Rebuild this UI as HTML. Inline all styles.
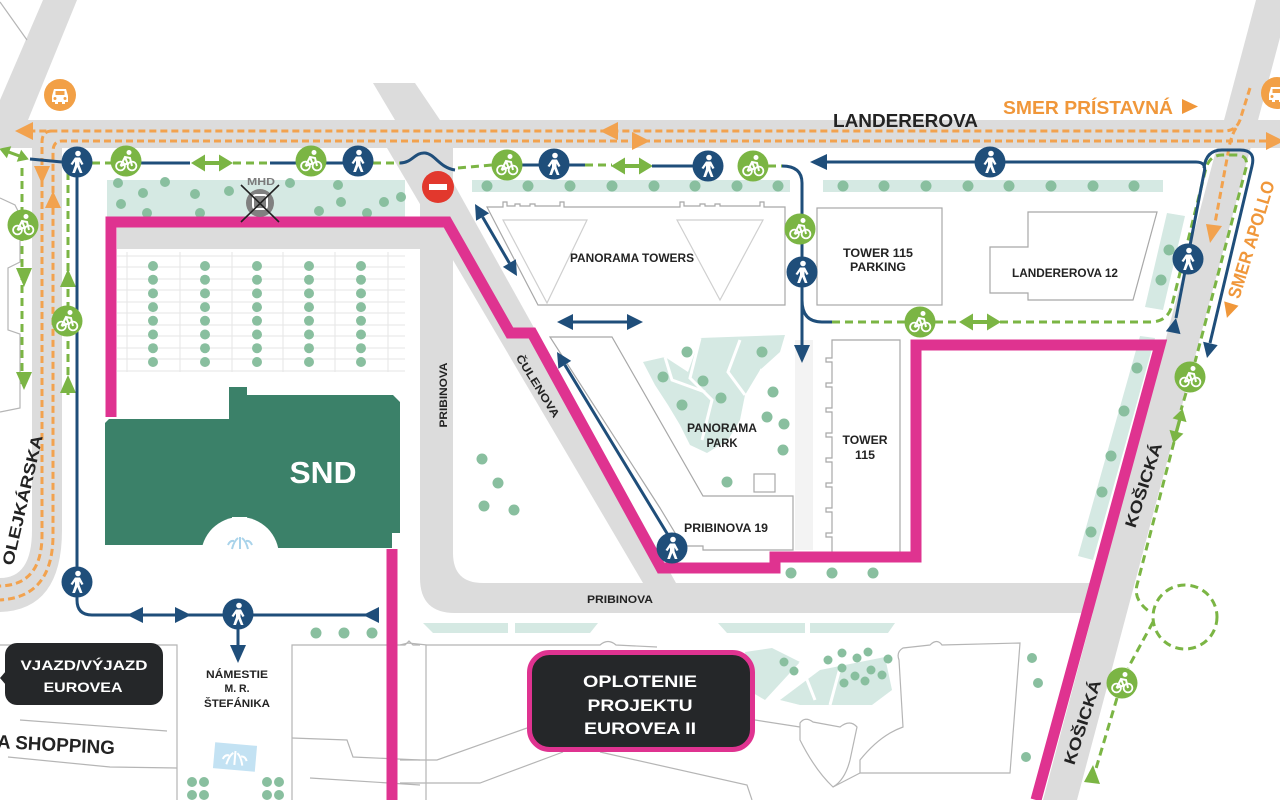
<!DOCTYPE html>
<html><head><meta charset="utf-8">
<style>
html,body{margin:0;padding:0;background:#fff;}
svg{display:block;}
text{font-family:"Liberation Sans",Arial,sans-serif;font-weight:bold;}
</style></head><body>
<svg width="1280" height="800" viewBox="0 0 1280 800" xmlns="http://www.w3.org/2000/svg">
<defs>
 <g id="ped">
  <circle r="15.5" fill="#1f4e7a"/>
  <circle cx="1" cy="-8.5" r="2.8" fill="#fff"/>
  <path d="M-2,-4.5 L3,-4.5 L6.5,2 L4.5,3 L2.5,-0.5 L2.5,3 L5.5,11 L2.8,11 L0.3,5 L-2,11 L-4.8,11 L-2,3 L-2,-0.5 L-4.5,3 L-6.5,2 Z" fill="#fff"/>
 </g>
 <g id="bike">
  <circle r="15.5" fill="#7bb544"/>
  <circle cx="-5.5" cy="5" r="4.4" fill="none" stroke="#fff" stroke-width="1.8"/>
  <circle cx="6" cy="5" r="4.4" fill="none" stroke="#fff" stroke-width="1.8"/>
  <circle cx="3" cy="-8.5" r="2.5" fill="#fff"/>
  <path d="M-5.5,5 L-1,-4 L4,-3 L6,5 M-1,-4 L1.5,2.5 L-5.5,5" stroke="#fff" stroke-width="2" fill="none"/>
 </g>
 <g id="dbl">
  <path d="M-21,0 L-7,-8.5 L-7,-2 L7,-2 L7,-8.5 L21,0 L7,8.5 L7,2 L-7,2 L-7,8.5 Z" fill="#7bb544"/>
 </g>
 <g id="car">
  <circle r="16" fill="#f2a046"/>
  <path d="M-8,1 L-6,-6 L6,-6 L8,1 L8,7 L5,7 L5,9 L2,9 L2,7 L-2,7 L-2,9 L-5,9 L-5,7 L-8,7 Z" fill="#fff"/>
  <rect x="-4.5" y="-4" width="9" height="4" fill="#f2a046"/>
  <circle cx="-5" cy="3.5" r="1.5" fill="#f2a046"/>
  <circle cx="5" cy="3.5" r="1.5" fill="#f2a046"/>
 </g>
</defs>

<!-- ROADS -->
<g fill="#dcdcdc">
 <polygon points="43,0 77,0 28,120 0,120 0,100"/>
 <rect x="0" y="120" width="1280" height="28"/>
 <polygon points="373,83 415,83 440,120 395,120"/>
 <polygon points="1256,0 1290,0 1077,800 1043,800"/>
 <path d="M32,140 L62,140 L62,530 Q62,610 0,612 L0,578 Q32,578 32,530 Z"/>
 <path d="M420,148 L453,148 L453,553 Q453,583 483,583 L1100,583 L1100,613 L455,613 Q420,613 420,578 Z"/>
 <polygon points="387,148 434,148 676,583 643,583"/>
 <rect x="117" y="222" width="310" height="27"/>
</g>

<!-- thin outlines -->
<g fill="none" stroke="#b5b5b5" stroke-width="1.2">
 <path d="M0,2 L27,40"/>
 <path d="M0,198 L15,205 L20,215 L20,262 L8,268 L8,330 L20,334 L20,408 L0,412"/>
 <path d="M0,645 H177 V800"/>
 <path d="M20,720 L167,731"/>
 <path d="M8,757 L110,767 L177,768"/>
 <path d="M292,800 V645 H405 L409,641 L413,645 H420"/>
 <path d="M292,738 L347,740 L353,757 L420,760"/>
 <path d="M310,778 L420,785"/>
 <path d="M400,645 L408,643 L427,645 L600,645 Q608,638 616,645 L657,647"/>
 <path d="M426,645 V800"/>
 <path d="M400,760 L437,760 L527,728"/>
 <path d="M400,783 L480,783 L563,752"/>
 <path d="M600,752 L747,785 L752,800"/>
 <path d="M755,720 L800,727"/>
 <path d="M800,723 Q805,716 813,722 L840,727 Q850,719 857,727 L850,760 Q845,780 833,787 Q815,770 800,740 Z"/>
 <path d="M860,773 L1010,773 L1020,643 L942,645 Q937,638 930,645 L903,648 Q896,652 899,660 L903,727 Q880,735 860,760 Z"/>
 <path d="M833,787 L860,773"/>
</g>

<!-- teal strips -->
<g fill="#d5e9e3">
 <rect x="107" y="180" width="298" height="38"/>
 <rect x="472" y="180" width="318" height="12"/>
 <rect x="823" y="180" width="340" height="12"/>
 <polygon points="1167,213 1185,216 1163,310 1145,307"/>
 <polygon points="1140,336 1155,338 1093,560 1078,556"/>
 <polygon points="423,623 508,623 508,633 433,633"/>
 <polygon points="515,623 598,623 590,633 515,633"/>
 <polygon points="718,623 805,623 805,633 727,633"/>
 <polygon points="810,623 895,623 888,633 810,633"/>
 <path d="M643,362 L665,357 L688,372 L700,338 L785,335 L780,352 L760,370 L745,395 L740,420 L728,440 L707,453 L690,445 L680,425 L668,405 L655,385 Z"/>
 <path d="M745,652 L772,648 L800,662 L765,700 L748,690 Z"/>
 <path d="M780,700 L820,670 L885,657 L892,690 L872,705 L800,705 Z"/>
</g>
<g fill="none" stroke="#fff" stroke-width="3">
 <path d="M700,338 L690,378 L712,400 L702,440"/>
 <path d="M740,340 L728,372 L745,395"/>
 <path d="M665,357 L672,380 L705,392"/>
 <path d="M760,370 L775,375"/>
 <path d="M800,662 L815,700 M840,668 L830,705"/>
</g>
<rect x="795" y="340" width="18" height="210" fill="#f3f3f3"/>

<!-- parking grid -->
<g stroke="#e6e6e6" stroke-width="1">
 <path d="M117,256 H405 M117,267 H405 M117,279 H405 M117,290 H405 M117,302 H405 M117,313 H405 M117,325 H405 M117,336 H405 M117,348 H405 M117,359 H405 M117,371 H405"/>
 <path d="M127,252 V372 M180,252 V372 M232,252 V372 M283,252 V372 M335,252 V372 M388,252 V372"/>
</g>

<!-- tree dots -->
<g fill="#89bf9f">
 <circle cx="118" cy="183" r="5"/><circle cx="143" cy="193" r="5"/><circle cx="165" cy="182" r="5"/><circle cx="121" cy="204" r="5"/><circle cx="147" cy="213" r="5"/><circle cx="195" cy="194" r="5"/><circle cx="200" cy="213" r="5"/><circle cx="229" cy="191" r="5"/><circle cx="290" cy="183" r="5"/><circle cx="338" cy="185" r="5"/><circle cx="341" cy="202" r="5"/><circle cx="319" cy="211" r="5"/><circle cx="367" cy="213" r="5"/><circle cx="384" cy="202" r="5"/><circle cx="401" cy="197" r="5"/>
 <circle cx="487" cy="186" r="5.5"/><circle cx="528" cy="186" r="5.5"/><circle cx="570" cy="186" r="5.5"/><circle cx="612" cy="186" r="5.5"/><circle cx="654" cy="186" r="5.5"/><circle cx="695" cy="186" r="5.5"/><circle cx="737" cy="186" r="5.5"/><circle cx="778" cy="186" r="5.5"/>
 <circle cx="843" cy="186" r="5.5"/><circle cx="884" cy="186" r="5.5"/><circle cx="926" cy="186" r="5.5"/><circle cx="968" cy="186" r="5.5"/><circle cx="1009" cy="186" r="5.5"/><circle cx="1051" cy="186" r="5.5"/><circle cx="1093" cy="186" r="5.5"/><circle cx="1134" cy="186" r="5.5"/>
 <circle cx="1169" cy="250" r="5.5"/><circle cx="1161" cy="280" r="5.5"/>
 <circle cx="1137" cy="368" r="5.5"/><circle cx="1124" cy="411" r="5.5"/><circle cx="1111" cy="456" r="5.5"/><circle cx="1102" cy="492" r="5.5"/><circle cx="1091" cy="532" r="5.5"/>
 <circle cx="687" cy="352" r="5.5"/><circle cx="762" cy="352" r="5.5"/><circle cx="663" cy="377" r="5.5"/><circle cx="703" cy="381" r="5.5"/><circle cx="773" cy="392" r="5.5"/><circle cx="682" cy="405" r="5.5"/><circle cx="721" cy="398" r="5.5"/><circle cx="767" cy="417" r="5.5"/><circle cx="784" cy="424" r="5.5"/><circle cx="783" cy="450" r="5.5"/><circle cx="727" cy="482" r="5.5"/>
 <circle cx="482" cy="459" r="5.5"/><circle cx="498" cy="483" r="5.5"/><circle cx="484" cy="506" r="5.5"/><circle cx="514" cy="510" r="5.5"/>
 <circle cx="791" cy="573" r="5.5"/><circle cx="832" cy="573" r="5.5"/><circle cx="873" cy="573" r="5.5"/>
 <circle cx="316" cy="633" r="5.5"/><circle cx="344" cy="633" r="5.5"/><circle cx="372" cy="633" r="5.5"/>
 <circle cx="1032" cy="658" r="5"/><circle cx="1038" cy="683" r="5"/><circle cx="1026" cy="757" r="5"/>
 <circle cx="784" cy="662" r="4.5"/><circle cx="794" cy="671" r="4.5"/><circle cx="828" cy="660" r="4.5"/><circle cx="842" cy="653" r="4.5"/><circle cx="857" cy="658" r="4.5"/><circle cx="868" cy="652" r="4.5"/><circle cx="888" cy="659" r="4.5"/><circle cx="842" cy="668" r="4.5"/><circle cx="855" cy="676" r="4.5"/><circle cx="871" cy="670" r="4.5"/><circle cx="882" cy="675" r="4.5"/><circle cx="844" cy="683" r="4.5"/><circle cx="865" cy="681" r="4.5"/>
 <circle cx="192" cy="782" r="5"/><circle cx="204" cy="782" r="5"/><circle cx="192" cy="795" r="5"/><circle cx="204" cy="795" r="5"/>
 <circle cx="267" cy="782" r="5"/><circle cx="279" cy="782" r="5"/><circle cx="267" cy="795" r="5"/><circle cx="279" cy="795" r="5"/>
 <g id="pcol"><circle cx="153" cy="266" r="5"/><circle cx="153" cy="279.7" r="5"/><circle cx="153" cy="293.4" r="5"/><circle cx="153" cy="307.1" r="5"/><circle cx="153" cy="320.8" r="5"/><circle cx="153" cy="334.5" r="5"/><circle cx="153" cy="348.2" r="5"/><circle cx="153" cy="362" r="5"/></g>
 <use href="#pcol" x="52"/><use href="#pcol" x="104"/><use href="#pcol" x="156"/><use href="#pcol" x="208"/>
</g>

<!-- buildings outlines -->
<g fill="none" stroke="#a8a8a8" stroke-width="1.2">
 <path d="M487,207 H503 V202 H507 V206 H515 V204 H520 V206 H530 V204 H535 V206 H560 V202 H564 V207 H680 V202 H684 V206 H700 V204 H705 V206 H715 V204 H720 V206 H760 V202 H764 V207 H785 V305 H538 Z" fill="#fff"/>
 <path d="M503,220 L587,220 L547,303 Z M677,220 L763,220 L720,300 Z" stroke="#cfcfcf"/>
 <rect x="817" y="208" width="125" height="97" fill="#fff"/>
 <path d="M1028,212 L1157,212 L1133,300 L1028,300 L1028,293 L990,293 L990,247 L1028,247 Z" fill="#fff"/>
 <path d="M550,337 L612,337 L703,496 L793,496 L793,550 L703,550 L703,546 L683,546 L660,508 Z"/>
 <rect x="754" y="474" width="21" height="18"/>
 <path d="M900,340 H832 V358 H826 V362 H832 V383 H826 V387 H832 V408 H826 V412 H832 V433 H826 V437 H832 V458 H826 V462 H832 V483 H826 V487 H832 V508 H826 V512 H832 V533 H826 V537 H832 V553 H900 Z" fill="#fff"/>
</g>

<!-- SND -->
<g fill="#3b8169">
 <path d="M109,419 L232,419 L232,545 L105,545 L105,423 Z"/>
 <rect x="229" y="387" width="18" height="130"/>
 <path d="M247,395 L393,395 L400,402 L400,533 L392,533 L392,548 L247,548 Z"/>
</g>
<circle cx="240" cy="556" r="39" fill="#fff"/>
<g fill="none" stroke="#a9d3ea" stroke-width="2">
 <path d="M232,549 Q234,541 238,538 M248,549 Q246,541 242,538 M240,549 V537 M228,545 Q230,540 234,541 M252,545 Q250,540 246,541"/>
</g>
<g transform="rotate(5 235 757)">
 <rect x="214" y="744" width="42" height="26" fill="#c3e2f3"/>
 <path d="M227,765 Q229,756 233,753 M243,765 Q241,756 237,753 M235,765 V751 M223,760 Q225,755 229,756 M247,760 Q245,755 241,756" stroke="#fff" stroke-width="2" fill="none"/>
</g>

<!-- PINK FENCE -->
<g fill="none" stroke="#df3390" stroke-width="11">
 <path d="M111,417 L111,222 L447,222 L510,333 L532,333 L661,568 L775,568 L775,557 L916,557 L916,345 L1160,345 L1036,800"/>
 <path d="M392,549 L392,800"/>
</g>

<!-- ORANGE ROUTES -->
<g fill="none" stroke="#f2a24e" stroke-width="3" stroke-dasharray="7 4">
 <path d="M1250,88 L1240,120 Q1236,131 1224,131 L33,131"/>
 <path d="M1266,141 L62,141 Q53,141 53,152 L53,535 Q53,597 0,600"/>
 <path d="M52,131 Q42,131 42,142 L42,535 Q42,585 0,586"/>
 <path d="M1236,128 Q1231,136 1229,148 L1215,223"/>
</g>
<g fill="#f2a24e">
 <polygon points="15,131 33,122 33,140"/>
 <polygon points="1284,141 1266,132 1266,150"/>
 <polygon points="600,131 618,122 618,140"/>
 <polygon points="650,141 632,132 632,150"/>
 <polygon points="42,184 34,166 50,166"/>
 <polygon points="53,191 45,208 61,208"/>
 <polygon points="1210,243 1206,224 1222,226"/>
</g>

<!-- GREEN ROUTES -->
<g fill="none" stroke="#7bb544" stroke-width="3" stroke-dasharray="8 5">
 <path d="M22,168 L22,385"/>
 <path d="M68,172 L68,395"/>
 <path d="M92,163 L112,163"/>
 <path d="M233,163 L270,163"/>
 <path d="M373,163 L400,163"/>
 <path d="M458,168 L492,165"/>
 <path d="M585,165 L612,165"/>
 <path d="M768,166 L783,166"/>
 <path d="M832,322 L905,322 M935,322 L960,322"/>
 <path d="M1000,322 L1150,322 Q1168,322 1172,305 L1206,168 Q1210,155 1222,155 L1236,155 Q1249,155 1246,168 L1195,362"/>
 <path d="M1186,393 L1181,410"/>
 <path d="M1174,442 L1137,585 Q1133,600 1150,612"/>
 <circle cx="1185" cy="617" r="32"/>
 <path d="M1153,622 L1128,668"/>
 <path d="M1117,698 L1092,782"/>
</g>
<g fill="#7bb544">
 <polygon points="24,287 16,268 32,268"/>
 <polygon points="24,390 16,372 32,372"/>
 <polygon points="68,269 60,287 76,287"/>
 <polygon points="68,375 60,393 76,393"/>
 <polygon points="1093,765 1084,782 1100,784"/>
</g>
<use href="#dbl" transform="translate(14,154) rotate(20) scale(0.75)"/>
<use href="#dbl" x="212" y="163"/>
<use href="#dbl" x="632" y="166"/>
<use href="#dbl" x="980" y="322"/>
<use href="#dbl" transform="translate(1178,426) rotate(-75) scale(0.85)"/>

<!-- BLUE ROUTES -->
<g fill="none" stroke="#1f4e7a" stroke-width="3">
 <path d="M30,159 L62,162"/>
 <path d="M77,175 L77,600 Q77,615 92,615 L378,615"/>
 <path d="M238,615 L238,646"/>
 <path d="M141,163 L190,163"/>
 <path d="M270,163 L296,163"/>
 <path d="M326,163 L343,163"/>
 <path d="M400,163 C412,163 415,152 425,153 C435,154 440,168 455,170"/>
 <path d="M522,165 L539,165"/>
 <path d="M569,165 L585,165"/>
 <path d="M652,166 L693,166"/>
 <path d="M782,166 Q802,166 802,183 L802,346"/>
 <path d="M802,300 Q802,322 822,322 L832,322"/>
 <path d="M826,162 L1196,162 Q1207,162 1204,173 L1176,318"/>
 <path d="M1204,168 Q1206,150 1222,150 L1240,150 Q1256,150 1252,166 L1210,343"/>
 <path d="M482.6,217 L509.4,263.1"/>
 <path d="M571,322 L629,322"/>
 <path d="M668,535 L564.8,364.8"/>
</g>
<g fill="#1f4e7a">
 <polygon points="363,615 379,607 379,623"/>
 <polygon points="127,615 143,607 143,623"/>
 <polygon points="191,615 175,607 175,623"/>
 <polygon points="238,663 230,645 246,645"/>
 <polygon points="810,162 827,154 827,170"/>
 <polygon points="802,363 794,345 810,345"/>
 <polygon points="1176,318 1180.5,334.1 1165.9,331.3"/>
 <polygon points="1207,358 1217.7,345.1 1203.1,341.7"/>
 <polygon points="475,204 476.1,220.8 489.1,213.2"/>
 <polygon points="517,276 502.9,266.9 515.9,259.3"/>
 <polygon points="557,322 573,314 573,330"/>
 <polygon points="643,322 627,314 627,330"/>
 <polygon points="557,352 571.2,360.9 558.4,368.7"/>
</g>

<!-- ICONS -->
<use href="#ped" x="77" y="162"/>
<use href="#ped" x="358" y="161"/>
<use href="#ped" x="554" y="164"/>
<use href="#ped" x="708" y="166"/>
<use href="#ped" x="990" y="162"/>
<use href="#ped" x="802" y="272"/>
<use href="#ped" x="1188" y="259"/>
<use href="#ped" x="77" y="582"/>
<use href="#ped" x="238" y="614"/>
<use href="#ped" x="672" y="548"/>
<use href="#bike" x="126" y="161"/>
<use href="#bike" x="311" y="161"/>
<use href="#bike" x="507" y="165"/>
<use href="#bike" x="753" y="166"/>
<use href="#bike" x="800" y="229"/>
<use href="#bike" x="920" y="322"/>
<use href="#bike" x="1190" y="377"/>
<use href="#bike" x="1122" y="683"/>
<use href="#bike" x="23" y="225"/>
<use href="#bike" x="67" y="321"/>
<use href="#car" x="60" y="95"/>
<use href="#car" x="1277" y="93"/>

<!-- no entry -->
<circle cx="438" cy="187" r="16" fill="#e2382d"/>
<rect x="429" y="184" width="18" height="6" fill="#fff"/>

<!-- MHD -->
<circle cx="260" cy="203" r="14" fill="#808080"/>
<rect x="253" y="195" width="14" height="14" rx="3" fill="none" stroke="#fff" stroke-width="2"/>
<path d="M241,185 L279,222 M279,185 L241,222" stroke="#222" stroke-width="1.6"/>
<text x="261" y="185" font-size="10.5" fill="#7b7b7b" text-anchor="middle" textLength="28" lengthAdjust="spacingAndGlyphs">MHD</text>

<!-- LABEL BOXES -->
<rect x="5" y="643" width="158" height="62" rx="12" fill="#252729"/>
<polygon points="6,671 0,678 6,685" fill="#252729"/>
<text x="84" y="670" font-size="14" fill="#fff" text-anchor="middle" textLength="127" lengthAdjust="spacingAndGlyphs">VJAZD/VÝJAZD</text>
<text x="83" y="692" font-size="14" fill="#fff" text-anchor="middle" textLength="79" lengthAdjust="spacingAndGlyphs">EUROVEA</text>

<rect x="529.5" y="652.5" width="223" height="97" rx="20" fill="#252729" stroke="#df3390" stroke-width="5"/>
<text x="640" y="687" font-size="17" fill="#fff" text-anchor="middle" textLength="114" lengthAdjust="spacingAndGlyphs">OPLOTENIE</text>
<text x="640" y="711" font-size="17" fill="#fff" text-anchor="middle" textLength="105" lengthAdjust="spacingAndGlyphs">PROJEKTU</text>
<text x="640" y="734" font-size="17" fill="#fff" text-anchor="middle" textLength="112" lengthAdjust="spacingAndGlyphs">EUROVEA II</text>

<!-- TEXT LABELS -->
<g fill="#232323">
 <text x="833" y="127" font-size="18" textLength="145" lengthAdjust="spacingAndGlyphs">LANDEREROVA</text>
 <text x="323" y="483" font-size="31" fill="#fff" text-anchor="middle" textLength="67" lengthAdjust="spacingAndGlyphs">SND</text>
 <text x="632" y="262" font-size="12" text-anchor="middle" textLength="124" lengthAdjust="spacingAndGlyphs">PANORAMA TOWERS</text>
 <text x="878" y="257" font-size="11.5" text-anchor="middle" textLength="70" lengthAdjust="spacingAndGlyphs">TOWER 115</text>
 <text x="878" y="271" font-size="11.5" text-anchor="middle" textLength="56" lengthAdjust="spacingAndGlyphs">PARKING</text>
 <text x="1065" y="277" font-size="11.5" text-anchor="middle" textLength="106" lengthAdjust="spacingAndGlyphs">LANDEREROVA 12</text>
 <text x="722" y="432" font-size="11.5" text-anchor="middle" textLength="70" lengthAdjust="spacingAndGlyphs">PANORAMA</text>
 <text x="722" y="447" font-size="11.5" text-anchor="middle" textLength="31" lengthAdjust="spacingAndGlyphs">PARK</text>
 <text x="865" y="444" font-size="11.5" text-anchor="middle" textLength="45" lengthAdjust="spacingAndGlyphs">TOWER</text>
 <text x="865" y="459" font-size="11.5" text-anchor="middle" textLength="20" lengthAdjust="spacingAndGlyphs">115</text>
 <text x="726" y="532" font-size="11.5" text-anchor="middle" textLength="84" lengthAdjust="spacingAndGlyphs">PRIBINOVA 19</text>
 <text x="620" y="603" font-size="11" text-anchor="middle" textLength="66" lengthAdjust="spacingAndGlyphs">PRIBINOVA</text>
 <text transform="translate(447,395) rotate(-90)" x="0" y="0" font-size="11" text-anchor="middle" textLength="65" lengthAdjust="spacingAndGlyphs">PRIBINOVA</text>
 <text transform="translate(538,386) rotate(58)" x="0" y="4" font-size="11" text-anchor="middle" textLength="72" lengthAdjust="spacingAndGlyphs">ČULENOVA</text>
 <text transform="translate(1143,485) rotate(-72)" x="0" y="6" font-size="16" text-anchor="middle" textLength="88" lengthAdjust="spacingAndGlyphs">KOŠICKÁ</text>
 <text transform="translate(1082,722) rotate(-72)" x="0" y="6" font-size="16" text-anchor="middle" textLength="88" lengthAdjust="spacingAndGlyphs">KOŠICKÁ</text>
 <text transform="translate(22,500) rotate(-77)" x="0" y="6" font-size="16" text-anchor="middle" textLength="133" lengthAdjust="spacingAndGlyphs">OLEJKÁRSKA</text>
 <text x="237" y="678" font-size="11" text-anchor="middle" textLength="62" lengthAdjust="spacingAndGlyphs">NÁMESTIE</text>
 <text x="237" y="692" font-size="11" text-anchor="middle" textLength="25" lengthAdjust="spacingAndGlyphs">M. R.</text>
 <text x="237" y="707" font-size="11" text-anchor="middle" textLength="66" lengthAdjust="spacingAndGlyphs">ŠTEFÁNIKA</text>
 <text transform="rotate(3 55 745)" x="-3" y="751" font-size="19" textLength="118" lengthAdjust="spacingAndGlyphs">A SHOPPING</text>
</g>
<g fill="#f0973a">
 <text x="1003" y="114" font-size="18" textLength="170" lengthAdjust="spacingAndGlyphs">SMER PRÍSTAVNÁ</text>
 <polygon points="1182,99 1198,106.5 1182,114"/>
 <g transform="translate(1248,249) rotate(-73)">
  <polygon points="-72,0 -57,-7.5 -57,7.5"/>
  <text x="-51" y="6.5" font-size="18" textLength="122" lengthAdjust="spacingAndGlyphs">SMER APOLLO</text>
 </g>
</g>
</svg>
</body></html>
